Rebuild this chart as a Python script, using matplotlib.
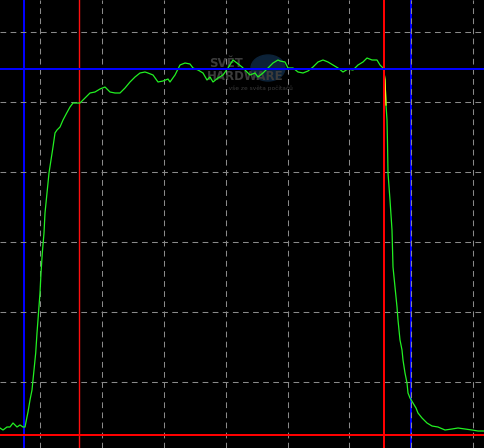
import numpy as np
import matplotlib
matplotlib.use("Agg")
import matplotlib.pyplot as plt
from matplotlib.patches import Ellipse

# Trace (x = sample position, y = level)
trace_x = [0, 3, 7, 10, 13, 17, 20, 23, 25, 27, 28, 30, 32, 33, 35.7, 37, 38.5, 40, 41, 42.3,
           44, 45, 47, 49, 51, 53, 55, 57, 60, 63, 66.7, 70, 73, 75, 80, 85, 90, 95, 100, 105,
           110, 115, 120, 125, 130, 135, 140, 145, 148, 153, 158, 163, 168, 170, 175, 180, 185,
           190, 193, 198, 203, 207, 210, 213, 218, 223, 228, 233, 237, 242, 245, 250, 255, 258,
           263, 268, 273, 278, 280, 285, 288, 293, 298, 303, 308, 313, 318, 323, 328, 333, 338,
           343, 348, 353, 358, 363, 367, 372, 377, 380, 383, 384, 385, 386, 387, 387.5, 388, 390,
           392, 393, 395, 397, 398, 400, 402, 403, 405, 407, 408, 410, 413, 416, 418, 422, 427,
           432, 438, 445, 452, 458, 465, 472, 478, 485]
trace_py = [428, 430, 427, 427, 423, 427, 425, 427, 427, 417, 412, 400, 390, 380, 353, 333, 313, 293, 273, 253,
            233, 213, 193, 173, 160, 147, 133, 130, 127, 120, 113, 107, 103, 103, 103, 98, 93, 92, 89, 87,
            92, 93, 93, 88, 82, 77, 73, 72, 73, 75, 82, 81, 79, 82, 75, 65, 63,
            64, 68, 70, 73, 80, 77, 82, 78, 75, 68, 60, 63, 67, 70, 75, 73, 77,
            73, 68, 63, 60, 61, 62, 68, 68, 72, 73, 71, 67, 62, 60, 62, 65, 68,
            72, 69, 70, 65, 62, 58, 60, 60, 65, 68, 72, 80, 105, 120, 143, 173, 200,
            230, 267, 287, 307, 320, 340, 350, 360, 373, 383, 393, 398, 403, 408, 413, 418, 423,
            426, 427, 430, 429, 428, 429, 430, 431, 431]
H = 448
trace_y = [H - v for v in trace_py]

# Cursor positions
blue_vx = [24.5, 411.5]
red_thin_vx = 79.0
red_vx = 384.5
blue_hy = H - 68.5
red_hy = H - 434.5

fig = plt.figure(figsize=(4.85, 4.48), dpi=100)
fig.patch.set_facecolor("black")
ax = fig.add_axes([0, 0, 1, 1])
ax.set_facecolor("black")
ax.set_xlim(0, 485)
ax.set_ylim(0, H)
for s in ax.spines.values():
    s.set_visible(False)
ax.set_xticks([])
ax.set_yticks([])

# dashed grid
gx = np.arange(40, 486, 61.9)
gy = H - np.arange(32, 449, 70)
for x in gx:
    ax.axvline(x, color="#8a8a8a", lw=0.75, dashes=(5.5, 4.2), zorder=3)
for y in gy:
    ax.axhline(y, color="#8a8a8a", lw=0.75, dashes=(5.5, 4.2), zorder=3)

# watermark
ax.add_patch(Ellipse((268, H - 68), 34, 26, color="#0c2238", zorder=0.5))
ax.text(226, H - 63, "SVĚT", color="#3c3c3c", fontsize=8.5, fontweight="bold",
        ha="center", va="center", zorder=1, family="DejaVu Sans")
ax.text(245, H - 76, "HARDWARE", color="#3c3c3c", fontsize=8.5, fontweight="bold",
        ha="center", va="center", zorder=1, family="DejaVu Sans")
ax.text(258, H - 88, "...vše ze světa počítačů", color="#3c3c3c", fontsize=4.2,
        ha="center", va="center", zorder=1, family="DejaVu Sans")

# trace
ax.plot(trace_x, trace_y, color="#22f022", lw=0.9, zorder=4)
tx = np.array(trace_x)
ty = np.array(trace_y)
m = (tx >= 384) & (tx <= 386)
ax.plot(tx[m], ty[m], color="#f0f020", lw=0.9, zorder=4)

# cursors
for x in blue_vx:
    ax.axvline(x, color="#0000ff", lw=1.44, zorder=2)
ax.axvline(red_thin_vx, color="#ff1010", lw=1.0, zorder=2)
ax.axvline(red_vx, color="#ff0000", lw=1.44, zorder=5)
ax.axhline(blue_hy, color="#0000ff", lw=1.44, zorder=5)
ax.axhline(red_hy, color="#ff0000", lw=1.44, zorder=5)

fig.savefig("out.png", dpi=100, facecolor="black")
